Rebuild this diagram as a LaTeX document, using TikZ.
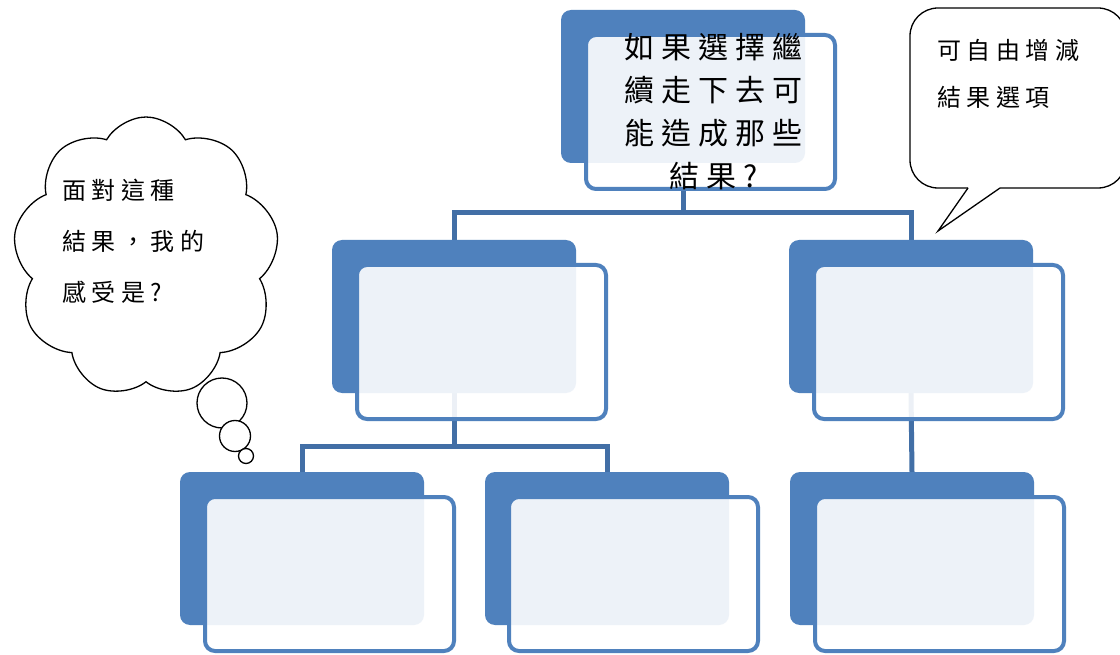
\documentclass[tikz,border=0pt]{standalone}
\usepackage{fontspec}
\newfontfamily\cjk[LetterSpace=23]{Noto Sans CJK TC}
\usetikzlibrary{shapes.symbols,backgrounds}
\definecolor{boxblue}{RGB}{79,129,189}
\definecolor{connblue}{RGB}{66,111,166}
\begin{document}
\begin{tikzpicture}[x=1pt,y=-1pt,
  backbox/.style={rectangle,rounded corners=10pt,fill=boxblue,minimum width=244pt,minimum height=153pt,inner sep=0pt,outer sep=0pt,anchor=north west},
  frontbox/.style={rectangle,rounded corners=10pt,draw=boxblue,line width=4pt,fill=white,fill opacity=0.9,text opacity=1,minimum width=249pt,minimum height=154pt,inner sep=0pt,outer sep=0pt,anchor=north west},
  conn/.style={draw=connblue,line width=5pt},
  bubble/.style={circle,draw=black,line width=1.3pt,fill=white,inner sep=0pt},
  toptext/.style={align=center,inner sep=0pt,font=\cjk\fontsize{30}{43}\selectfont},
  sidetext/.style={align=left,inner sep=0pt,anchor=west}]
\useasboundingbox (0,0) rectangle (1120,655);

% boxes
\node[backbox] (tback) at (561,10) {};
\node[frontbox] (tfront) at (586,35) {};
\node[toptext] (ttext) at ([xshift=3pt]tfront.center) {如果選擇繼\\續走下去可\\能造成那些\\結果?};

\node[backbox] (lback) at (332,240) {};
\node[frontbox] (lfront) at (357,265) {};
\node[backbox] (rback) at (789,240) {};
\node[frontbox] (rfront) at (814,265) {};

\node[backbox] (b1back) at (180,472) {};
\node[frontbox] (b1front) at (205,497) {};
\node[backbox] (b2back) at (485,472) {};
\node[frontbox] (b2front) at (509,497) {};
\node[backbox] (b3back) at (790,472) {};
\node[frontbox] (b3front) at (815,497) {};

% connectors behind
\begin{pgfonlayer}{background}
\fill[white] (0,0) rectangle (1120,655);
\coordinate (j1) at (0,213);
\coordinate (j2) at (0,446);
\draw[conn] (tback.south) -- (tback.south |- j1) -| (lback.north);
\draw[conn] (tback.south |- j1) -| (rback.north);
\draw[conn] (lback.south) -- (lback.south |- j2) -| (b1back.north);
\draw[conn] (lback.south |- j2) -| (b2back.north);
\draw[conn] (rback.south) -- (b3back.north);
\end{pgfonlayer}

% speech callout
\begin{scope}
\clip (0,0) rectangle (1120,655);
\coordinate (tailL) at (968,188);
\coordinate (tailR) at (1000,188);
\coordinate (tip) at (938,231);
\fill[white] (910,8) rectangle (1126,188);
\draw[line width=1.3pt,rounded corners=28pt] (tailL) -- (910,188) -- (910,8) -- (1126,8) -- (1126,188) -- (tailR);
\fill[white] (tailL) -- (tip) -- (tailR) -- cycle;
\draw[line width=1.3pt,line join=miter] (tailR) -- (tip) -- (tailL);
\end{scope}
\node[sidetext,font=\cjk\fontsize{24}{47}\selectfont] (calltext) at (937,74) {可自由增減\\結果選項};

% thought cloud
\node[cloud,draw=black,fill=white,line width=1.3pt,cloud puffs=9,cloud puff arc=120,aspect=0.95,minimum width=266pt,minimum height=280pt,inner sep=0pt,shape border rotate=10] (thought) at (146,257) {};
\node[sidetext,font=\cjk\fontsize{24}{51}\selectfont] (cloudtext) at (62,241) {面對這種\\結果，我的\\感受是?};
\node[bubble,minimum size=50pt] (bub1) at (222,403) {};
\node[bubble,minimum size=31pt] (bub2) at (235,436) {};
\node[bubble,minimum size=15pt] (bub3) at (246,456) {};
\end{tikzpicture}
\end{document}
